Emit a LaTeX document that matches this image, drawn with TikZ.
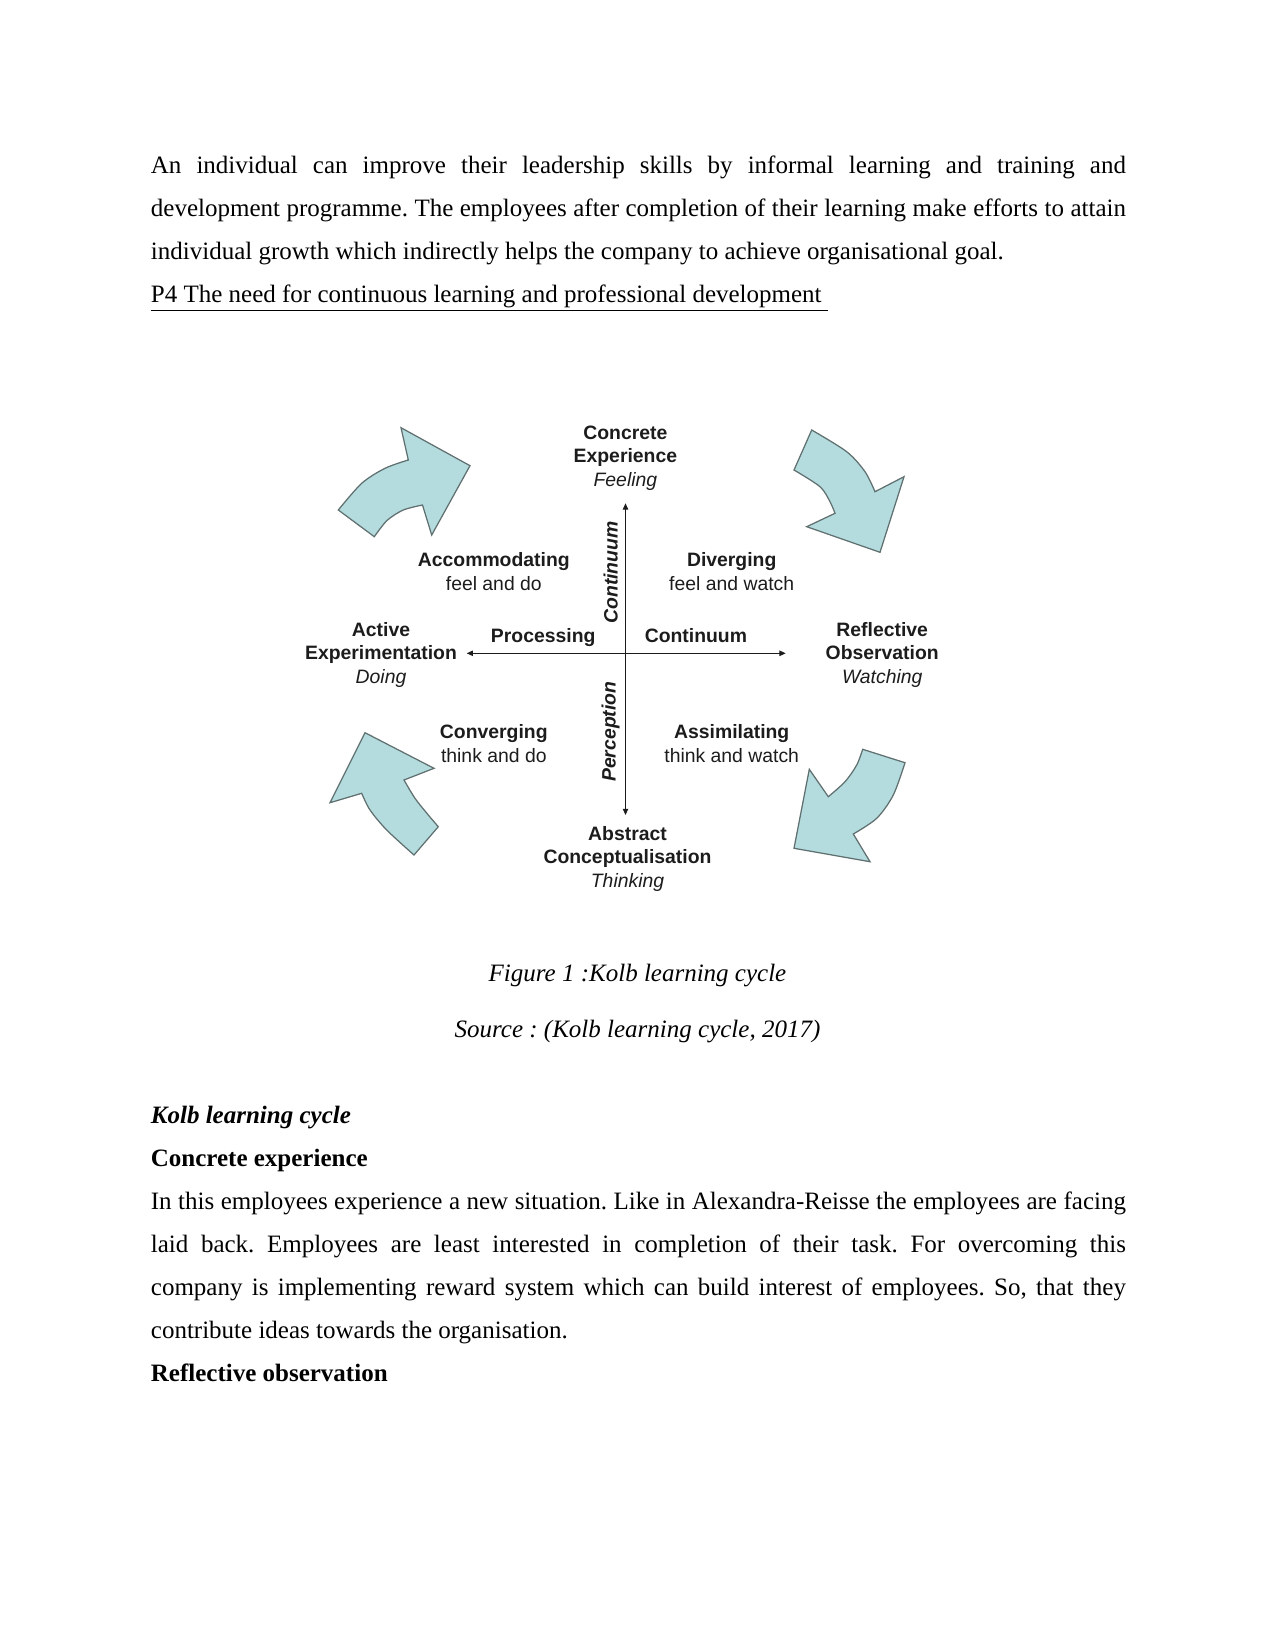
\documentclass[tikz,border=0pt]{standalone}
\usepackage{fontspec}
\setmainfont{Liberation Serif}
\newfontfamily\kolbfont{Liberation Sans}
\usepackage{xcolor}
\usetikzlibrary{
  arrows.meta
}
\definecolor{kolbfill}{RGB}{180,220,222}
\definecolor{kolbedge}{RGB}{96,112,112}
\definecolor{kolbtext}{RGB}{28,28,28}
\frenchspacing

\begin{document}
\begin{tikzpicture}[
    x=0.48pt, y=-0.48pt,
    >={Triangle[length=3pt,width=2.6pt]},
    body/.style={anchor=base west, inner sep=0pt, text width=468pt,
      align=justify, font=\fontsize{12}{20.7}\selectfont},
    line/.style={anchor=base west, inner sep=0pt,
      font=\fontsize{12}{20.7}\selectfont},
    caption/.style={anchor=base, inner sep=0pt,
      font=\fontsize{12}{14}\selectfont\itshape},
    stage/.style={anchor=base, inner sep=0pt, align=center, text=kolbtext,
      font=\kolbfont\fontsize{9.3}{11.2}\selectfont\bfseries},
    cyclearrow/.style={fill=kolbfill, draw=kolbedge, line width=0.6pt,
      line join=miter},
    axis/.style={<->, draw=kolbtext, line width=0.5pt}
    ]

    % page
    \useasboundingbox (0,0) rectangle (1275,1651);

    % text above the figure
    \node[body] (para1) at (150.5,173.3)
    {An individual can improve their leadership skills by informal learning and training and\linebreak
    development programme. The employees after completion of their learning make efforts to attain\linebreak
    individual growth which indirectly helps the company to achieve organisational goal.};

    \node[line] (head) at (150.5,302)
    {\underline{P4 The need for continuous learning and professional development\ }};

    % curved arrows
    \draw[cyclearrow]
    plot[smooth] coordinates{(338.3,510) (361.7,483.3) (385,468.3) (408.3,460)}
    -- (401,427.7) -- (470,465.7) -- (431.7,535) -- (422.5,505)
    -- plot[smooth] coordinates{(422.5,505) (403.3,510) (387,520.5) (374.3,536.7)}
    -- cycle;

    \draw[cyclearrow]
    plot[smooth] coordinates{(811.7,430) (846.7,451.7) (865,471.7) (875,491.7)}
    -- (904,476.7) -- (880,552.3) -- (806.7,526.7) -- (835,513.3)
    -- plot[smooth] coordinates{(835,513.3) (830,501.7) (820,486.7) (794,470)}
    -- cycle;

    \draw[cyclearrow]
    plot[smooth] coordinates{(905,762.7) (893.3,795) (876.7,818.3) (853.3,834)}
    -- (870,861.7) -- (794,848.3) -- (809.3,769.3) -- (828.3,796.7)
    -- plot[smooth] coordinates{(828.3,796.7) (845,781.7) (856.7,765) (862.7,749.3)}
    -- cycle;

    \draw[cyclearrow]
    plot[smooth] coordinates{(414,855) (386.7,830) (370,810) (361.7,793.3)}
    -- (330,802.7) -- (365,732.7) -- (434,768.3) -- (404,780)
    -- plot[smooth] coordinates{(404,780) (415,798.3) (428.3,815) (438.3,826.7)}
    -- cycle;

    % axes
    \coordinate (cetip) at (625.5,503.3);
    \coordinate (actip) at (625.5,815);
    \coordinate (aetip) at (466.7,653.3);
    \coordinate (rotip) at (785.7,653.3);
    \draw[axis] (actip) -- (cetip);
    \draw[axis] (aetip) -- (rotip);

    % stages (base = last line)
    \node[stage] (ce) at (625.4,486)
    {Concrete\\Experience\\{\mdseries\itshape Feeling}};
    \node[stage] (ae) at (381,683)
    {Active\\Experimentation\\{\mdseries\itshape Doing}};
    \node[stage] (ro) at (882.2,683)
    {Reflective\\Observation\\{\mdseries\itshape Watching}};
    \node[stage] (ac) at (627.5,887)
    {Abstract\\Conceptualisation\\{\mdseries\itshape Thinking}};

    % styles
    \node[stage] (acc) at (493.8,590) {Accommodating\\{\mdseries feel and do}};
    \node[stage] (div) at (731.7,590) {Diverging\\{\mdseries feel and watch}};
    \node[stage] (conv) at (493.8,762) {Converging\\{\mdseries think and do}};
    \node[stage] (assim) at (731.7,762) {Assimilating\\{\mdseries think and watch}};

    % continuum labels
    \node[stage] (proc) at (543.2,642) {Processing};
    \node[stage] (conth) at (695.9,642) {Continuum};
    \node[stage, anchor=center, rotate=90] (contv) at (610.6,572.5)
    {\itshape Continuum};
    \node[stage, anchor=center, rotate=90] (perc) at (610.6,731.7)
    {\itshape Perception};

    % captions
    \node[caption] (fig) at (637.5,981) {Figure 1 :Kolb learning cycle};
    \node[caption] (src) at (637.5,1037) {Source : (Kolb learning cycle, 2017)};

    % text below the figure
    \node[line] (kolb) at (150.5,1123) {\bfseries\itshape Kolb learning cycle};
    \node[line] (conc) at (150.5,1166) {\bfseries Concrete experience};

    \node[body] (para2) at (150.5,1209)
    {In this employees experience a new situation. Like in Alexandra-Reisse the employees are facing\linebreak
    laid back. Employees are least interested in completion of their task. For overcoming this\linebreak
    company is implementing reward system which can build interest of employees. So, that they\linebreak
    contribute ideas towards the organisation.};

    \node[line] (refl) at (150.5,1381) {\bfseries Reflective observation};

\end{tikzpicture}
\end{document}
